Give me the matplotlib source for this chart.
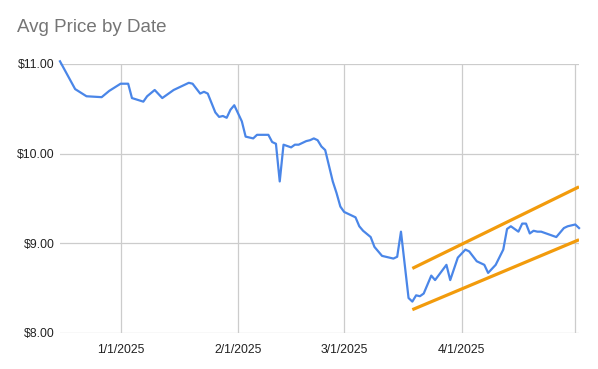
import pandas as pd
import matplotlib
matplotlib.use('Agg')
import matplotlib.pyplot as plt
import matplotlib.dates as mdates

plt.rcParams['font.family'] = ['Liberation Sans', 'DejaVu Sans']

# Avg price series
dates = [
    '2024-12-16', '2024-12-20', '2024-12-23', '2024-12-27', '2024-12-29',
    '2025-01-01', '2025-01-03', '2025-01-04', '2025-01-07', '2025-01-08',
    '2025-01-10', '2025-01-12', '2025-01-15', '2025-01-19', '2025-01-20',
    '2025-01-22', '2025-01-23', '2025-01-24', '2025-01-26', '2025-01-27',
    '2025-01-28', '2025-01-29', '2025-01-30', '2025-01-31', '2025-02-01',
    '2025-02-02', '2025-02-03', '2025-02-04', '2025-02-05', '2025-02-06',
    '2025-02-09', '2025-02-10', '2025-02-11', '2025-02-12', '2025-02-13',
    '2025-02-15', '2025-02-16', '2025-02-17', '2025-02-19', '2025-02-20',
    '2025-02-21', '2025-02-22', '2025-02-23', '2025-02-24', '2025-02-26',
    '2025-02-27', '2025-02-28', '2025-03-01', '2025-03-03', '2025-03-04',
    '2025-03-05', '2025-03-06', '2025-03-08', '2025-03-09', '2025-03-11',
    '2025-03-14', '2025-03-15', '2025-03-16', '2025-03-18', '2025-03-19',
    '2025-03-20', '2025-03-21', '2025-03-22', '2025-03-24', '2025-03-25',
    '2025-03-28', '2025-03-29', '2025-03-31', '2025-04-02', '2025-04-03',
    '2025-04-05', '2025-04-06', '2025-04-07', '2025-04-08', '2025-04-10',
    '2025-04-12', '2025-04-13', '2025-04-14', '2025-04-16', '2025-04-17',
    '2025-04-18', '2025-04-19', '2025-04-20', '2025-04-21', '2025-04-22',
    '2025-04-24', '2025-04-26', '2025-04-28', '2025-04-29', '2025-05-01',
    '2025-05-02',
]
prices = [
    11.03, 10.72, 10.64, 10.63, 10.70,
    10.78, 10.78, 10.62, 10.58, 10.64,
    10.71, 10.62, 10.71, 10.79, 10.78,
    10.67, 10.69, 10.67, 10.46, 10.41,
    10.42, 10.40, 10.49, 10.54, 10.45,
    10.36, 10.19, 10.18, 10.17, 10.21,
    10.21, 10.13, 10.11, 9.69, 10.10,
    10.07, 10.10, 10.10, 10.14, 10.15,
    10.17, 10.15, 10.08, 10.04, 9.69,
    9.56, 9.41, 9.35, 9.31, 9.29,
    9.19, 9.14, 9.07, 8.96, 8.86,
    8.83, 8.85, 9.13, 8.39, 8.35,
    8.42, 8.41, 8.44, 8.64, 8.59,
    8.76, 8.59, 8.84, 8.93, 8.91,
    8.80, 8.78, 8.76, 8.67, 8.76,
    8.93, 9.16, 9.19, 9.13, 9.22,
    9.22, 9.11, 9.14, 9.13, 9.13,
    9.10, 9.07, 9.17, 9.19, 9.21,
    9.17,
]

# channel lines (start / end)
channel_dates = ['2025-03-19', '2025-05-02']
upper_channel = [8.72, 9.63]
lower_channel = [8.26, 9.04]

tick_dates = ['2025-01-01', '2025-02-01', '2025-03-01', '2025-04-01', '2025-05-01']
tick_labels = ['1/1/2025', '2/1/2025', '3/1/2025', '4/1/2025', '']
y_ticks = [8, 9, 10, 11]
y_labels = ['$8.00', '$9.00', '$10.00', '$11.00']

df = pd.DataFrame({'Date': pd.to_datetime(dates), 'Price': prices})
cd = pd.to_datetime(channel_dates)

fig = plt.figure(figsize=(5.98, 3.69), dpi=100)
ax = fig.add_axes([0.1003, 0.0976, 0.8680, 0.7290])

ax.plot(cd, upper_channel, color='#f29b0c', linewidth=2.3, solid_capstyle='butt', zorder=3)
ax.plot(cd, lower_channel, color='#f29b0c', linewidth=2.3, solid_capstyle='butt', zorder=3)
ax.plot(df['Date'], df['Price'], color='#4a86e8', linewidth=1.6, clip_on=False, zorder=4)

ax.set_xlim(df['Date'].min(), df['Date'].max())
ax.set_ylim(8, 11)
ax.set_xticks(pd.to_datetime(tick_dates))
ax.set_xticklabels(tick_labels)
ax.set_yticks(y_ticks)
ax.set_yticklabels(y_labels)
ax.tick_params(axis='both', length=0, labelsize=8.8, labelcolor='#222222')
ax.tick_params(axis='x', pad=8)
ax.tick_params(axis='y', pad=4)
ax.grid(True, color='#cccccc', linewidth=0.9)
ax.set_axisbelow(True)
for s in ax.spines.values():
    s.set_visible(False)

fig.text(0.028, 0.926, 'Avg Price by Date', fontsize=13.5, color='#757575', va='center', ha='left')

fig.savefig('out.png', dpi=100)
